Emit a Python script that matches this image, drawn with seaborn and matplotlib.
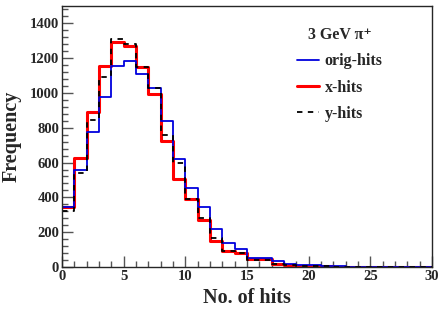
import numpy as np
import pandas as pd
import seaborn as sns
import matplotlib.pyplot as plt
from matplotlib.lines import Line2D
from matplotlib.ticker import MultipleLocator

# bin edges 0..30, one count per unit-wide bin
bin_edges = list(range(0, 31))
orig_hits = [345, 555, 776, 979, 1152, 1181, 1106, 1031, 841, 620,
             453, 347, 219, 140, 102, 50, 50, 36, 16, 13,
             11, 4, 3, 2, 2, 1, 1, 1, 0, 0]
x_hits = [347, 628, 889, 1152, 1290, 1267, 1146, 991, 726, 507,
          390, 271, 152, 92, 82, 44, 44, 17, 13, 6,
          4, 3, 2, 2, 1, 1, 1, 0, 0, 0]
y_hits = [324, 540, 847, 1089, 1307, 1279, 1146, 1031, 760, 597,
          390, 280, 165, 92, 82, 40, 40, 17, 12, 6,
          4, 3, 2, 2, 1, 1, 1, 0, 0, 0]

centers = np.array(bin_edges[:-1]) + 0.5
df = pd.DataFrame({
    "hits": np.concatenate([centers] * 3),
    "count": orig_hits + x_hits + y_hits,
    "series": ["orig-hits"] * 30 + ["x-hits"] * 30 + ["y-hits"] * 30,
})

sns.set_style("ticks")
plt.rcParams["font.family"] = ["Liberation Serif", "DejaVu Serif"]
plt.rcParams["font.weight"] = "bold"

fig = plt.figure(figsize=(4.41, 3.15), dpi=100)
ax = fig.add_axes([0.1406, 0.1524, 0.839, 0.829])

styles = {
    "x-hits": dict(color="red", linewidth=2.2, linestyle="-"),
    "orig-hits": dict(color="#0000dd", linewidth=1.3, linestyle="-"),
    "y-hits": dict(color="black", linewidth=1.3, linestyle=(0, (3, 3))),
}
for name in ["x-hits", "orig-hits", "y-hits"]:
    sub = df[df["series"] == name]
    sns.histplot(data=sub, x="hits", weights="count", bins=bin_edges,
                 element="step", fill=False, ax=ax, **styles[name])

ax.set_xlim(0, 30)
ax.set_ylim(0, 1500)
ax.xaxis.set_major_locator(MultipleLocator(5))
ax.xaxis.set_minor_locator(MultipleLocator(1))
ax.yaxis.set_major_locator(MultipleLocator(200))
ax.yaxis.set_minor_locator(MultipleLocator(40))
ax.tick_params(which="both", direction="in", top=False, right=False, labelsize=10.5, pad=2)
ax.tick_params(which="major", length=8, width=1, color="#555555")
ax.tick_params(which="minor", length=4, width=1, color="#555555")
for lab in ax.get_xticklabels() + ax.get_yticklabels():
    lab.set_fontweight("bold")
for s in ax.spines.values():
    s.set_linewidth(1)

ax.set_xlabel("No. of hits", fontsize=14.5, fontweight="bold", labelpad=4)
ax.set_ylabel("Frequency", fontsize=14.5, fontweight="bold", labelpad=6)

handles = [Line2D([], [], **styles[n]) for n in ["orig-hits", "x-hits", "y-hits"]]
for h in handles:
    h.set_linewidth(1.3)
handles[1].set_linewidth(2.2)
leg = ax.legend(handles, ["orig-hits", "x-hits", "y-hits"], title="3 GeV π⁺",
                loc="upper left", bbox_to_anchor=(0.595, 0.975), frameon=False,
                prop={"size": 11.5, "weight": "bold"}, handlelength=1.4,
                handletextpad=0.35, labelspacing=0.65)
leg.get_title().set_fontsize(11.5)
leg.get_title().set_fontweight("bold")

fig.savefig("out.png", dpi=100)
